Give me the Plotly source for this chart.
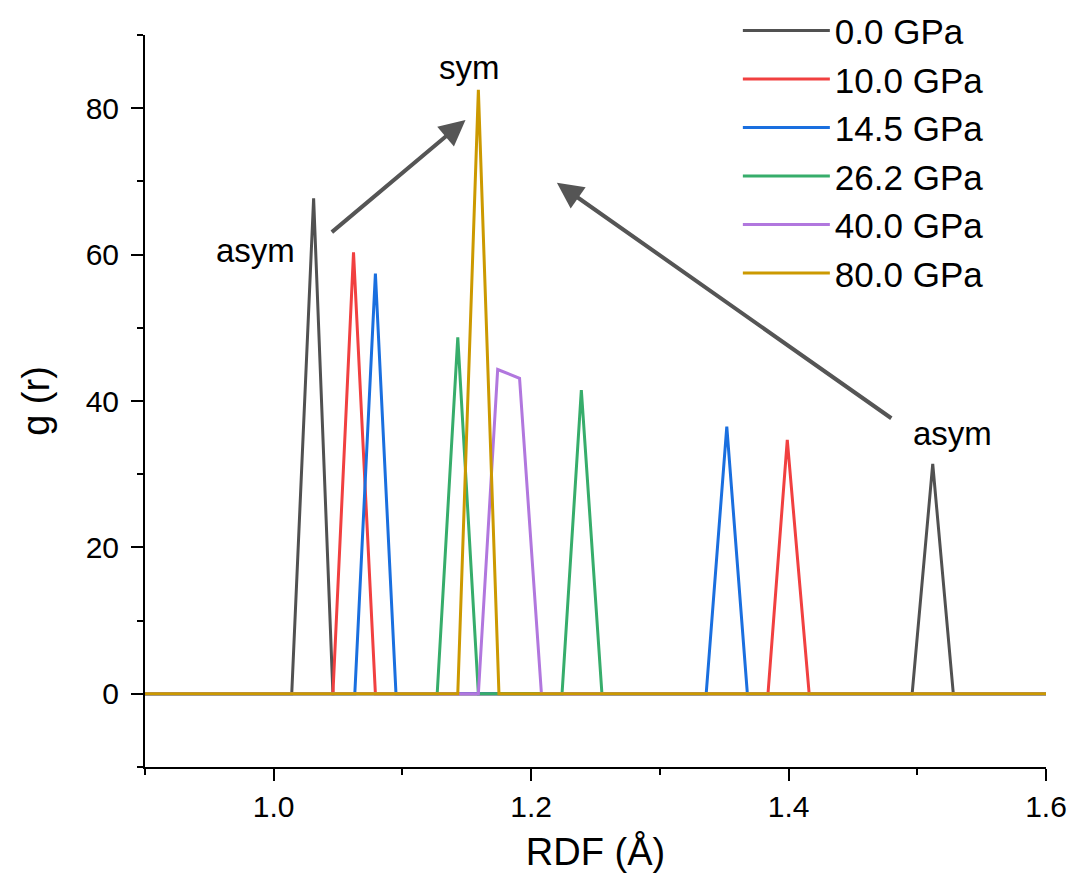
import plotly.graph_objects as go

# Radial distribution g(r) of the bonded pair at each pressure (r in Å)
labels = ["0.0 GPa", "10.0 GPa", "14.5 GPa", "26.2 GPa", "40.0 GPa", "80.0 GPa"]
colors = ["#515151", "#F14040", "#1A6FDF", "#37AD6B", "#B177DE", "#CC9900"]

r_00 = [0.900, 1.014, 1.031, 1.046, 1.496, 1.512, 1.528, 1.600]
g_00 = [0.0, 0.0, 67.7, 0.0, 0.0, 31.4, 0.0, 0.0]

r_10 = [0.900, 1.046, 1.062, 1.079, 1.384, 1.399, 1.416, 1.600]
g_10 = [0.0, 0.0, 60.3, 0.0, 0.0, 34.7, 0.0, 0.0]

r_145 = [0.900, 1.063, 1.079, 1.095, 1.336, 1.352, 1.368, 1.600]
g_145 = [0.0, 0.0, 57.4, 0.0, 0.0, 36.5, 0.0, 0.0]

r_262 = [0.900, 1.127, 1.143, 1.159, 1.224, 1.239, 1.255, 1.600]
g_262 = [0.0, 0.0, 48.7, 0.0, 0.0, 41.5, 0.0, 0.0]

r_40 = [0.900, 1.159, 1.174, 1.191, 1.208, 1.600]
g_40 = [0.0, 0.0, 44.3, 43.1, 0.0, 0.0]

r_80 = [0.900, 1.143, 1.159, 1.175, 1.600]
g_80 = [0.0, 0.0, 82.5, 0.0, 0.0]

series_r = [r_00, r_10, r_145, r_262, r_40, r_80]
series_g = [g_00, g_10, g_145, g_262, g_40, g_80]

FONT = "Liberation Sans, Arial, sans-serif"

fig = go.Figure()
for name, col, r, g in zip(labels, colors, series_r, series_g):
    fig.add_trace(go.Scatter(
        x=r, y=g, mode="lines", name=name,
        line=dict(color=col, width=3),
    ))

axis_common = dict(
    showline=True, linecolor="black", linewidth=2,
    showgrid=False, zeroline=False,
    ticks="outside", ticklen=12, tickwidth=2, tickcolor="black",
    tickfont=dict(family=FONT, size=30, color="black"),
)

fig.update_xaxes(
    range=[0.9, 1.6], tick0=1.0, dtick=0.2, tickformat=".1f",
    minor=dict(dtick=0.1, tick0=0.9, ticks="outside", ticklen=6,
               tickwidth=2, tickcolor="black"),
    title=dict(text="RDF (Å)", font=dict(family=FONT, size=38, color="black"),
               standoff=16),
    **axis_common,
)
fig.update_yaxes(
    range=[-10, 90], tick0=0, dtick=20,
    minor=dict(dtick=10, tick0=0, ticks="outside", ticklen=6,
               tickwidth=2, tickcolor="black"),
    ticklabelstandoff=6,
    title=dict(text="g (r)", font=dict(family=FONT, size=38, color="black"),
               standoff=24),
    **axis_common,
)

# Arrows from the asymmetric peaks toward the symmetric one
arrows = [
    dict(tail=(1.044, 62.9), head=(1.149, 78.4)),
    dict(tail=(1.481, 37.5), head=(1.220, 69.8)),
]
for a in arrows:
    fig.add_annotation(
        x=a["head"][0], y=a["head"][1], ax=a["tail"][0], ay=a["tail"][1],
        xref="x", yref="y", axref="x", ayref="y",
        showarrow=True, arrowhead=2, arrowsize=1.3, arrowwidth=4,
        arrowcolor="#555555", text="",
    )

notes = [("asym", 0.986, 60.6), ("sym", 1.152, 85.6), ("asym", 1.527, 35.6)]
for txt, nx, ny in notes:
    fig.add_annotation(
        x=nx, y=ny, xref="x", yref="y", text=txt, showarrow=False,
        font=dict(family=FONT, size=33, color="black"),
    )

fig.update_layout(
    width=1075, height=884,
    margin=dict(l=145, r=29, t=35, b=117, autoexpand=False),
    paper_bgcolor="white", plot_bgcolor="white",
    showlegend=True,
    legend=dict(
        x=0.658, y=1.046, xanchor="left", yanchor="top",
        bgcolor="rgba(0,0,0,0)", borderwidth=0,
        font=dict(family=FONT, size=35, color="black"),
        tracegroupgap=0, itemwidth=87,
    ),
)

fig.write_html("out.html")
